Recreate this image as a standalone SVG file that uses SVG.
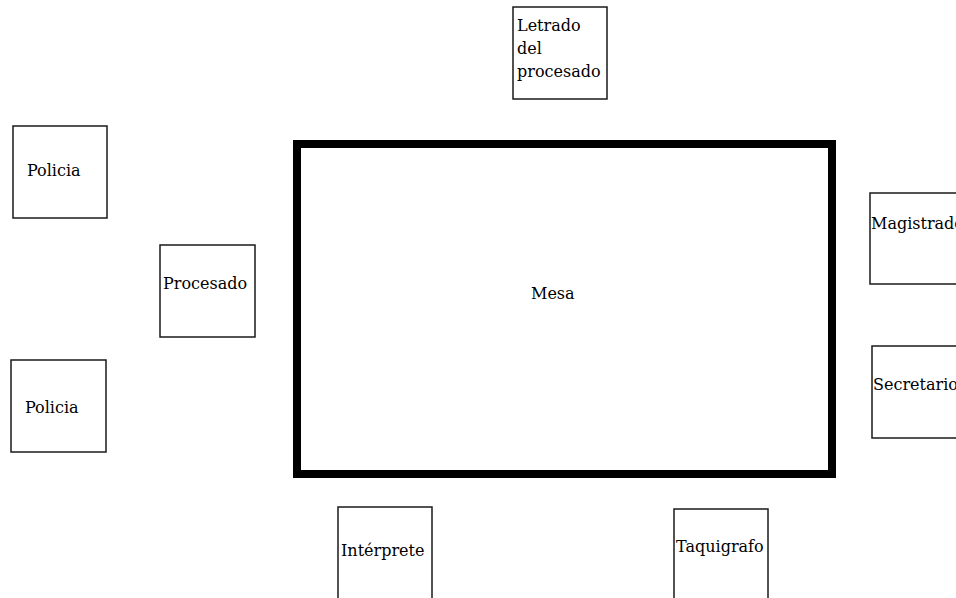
<svg xmlns="http://www.w3.org/2000/svg" width="956" height="598" viewBox="0 0 956 598">
<style>
.box{fill:#fff;stroke:#1a1a1a;stroke-width:1.5}
.mesa{fill:#fff;stroke:#000;stroke-width:8}
text{font-family:"DejaVu Serif","Liberation Serif",serif;font-size:16px;fill:#000}
</style>
<rect width="956" height="598" fill="#fff"/>
<g id="mesa"><rect class="mesa" x="297" y="144" width="535" height="330"/><text x="531" y="299">Mesa</text></g>
<g id="letrado"><rect class="box" x="513" y="7" width="94" height="92"/><text x="517" y="31">Letrado</text><text x="517" y="54">del</text><text x="517" y="77">procesado</text></g>
<g id="policia1"><rect class="box" x="13" y="126" width="94" height="92"/><text x="27" y="176">Policia</text></g>
<g id="procesado"><rect class="box" x="160" y="245" width="95" height="92"/><text x="163" y="289">Procesado</text></g>
<g id="policia2"><rect class="box" x="11" y="360" width="95" height="92"/><text x="25" y="413">Policia</text></g>
<g id="magistrado"><rect class="box" x="870" y="193" width="100" height="91"/><text x="871" y="229">Magistrado</text></g>
<g id="secretario"><rect class="box" x="872" y="346" width="100" height="92"/><text x="873" y="390">Secretario</text></g>
<g id="interprete"><rect class="box" x="338" y="507" width="94" height="110"/><text x="341" y="556">Intérprete</text></g>
<g id="taquigrafo"><rect class="box" x="674" y="509" width="94" height="110"/><text x="676" y="552">Taquigrafo</text></g>
<g id="connectors"></g>
</svg>
